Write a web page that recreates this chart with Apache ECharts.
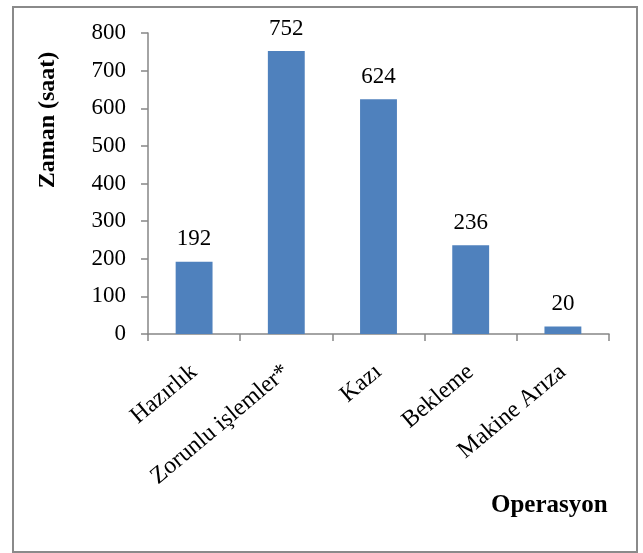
<!DOCTYPE html>
<html>
<head>
<meta charset="utf-8">
<script src="https://cdn.jsdelivr.net/npm/echarts@6/dist/echarts.min.js"></script>
<style>
  html, body { margin: 0; padding: 0; background: #fff; }
  #chart { width: 643px; height: 553px; }
</style>
</head>
<body>
<div id="chart"></div>
<script>
// operasyon süreleri (saat)
const categories = ['Hazırlık', 'Zorunlu işlemler*', 'Kazı', 'Bekleme', 'Makine Arıza']
const hours = [192, 752, 624, 236, 20]
const yTicks = { min: 0, max: 800, step: 100 }

const font = '"Liberation Serif", "Times New Roman", serif'
const axisGray = '#868686'

const chart = echarts.init(document.getElementById('chart'))
chart.setOption({
  animation: false,
  grid: { left: 148, right: 34, top: 33, bottom: 219 },
  graphic: [
    {
      type: 'rect',
      shape: { x: 13, y: 7, width: 624, height: 545 },
      style: { fill: 'none', stroke: '#8a8a8a', lineWidth: 2 }
    },
    {
      // eksen başlığı, eksenin ortasında değil biraz yukarıda
      type: 'text',
      x: 48, y: 120,
      rotation: Math.PI / 2,
      style: {
        text: 'Zaman (saat)', font: 'bold 24px ' + font, fill: '#000',
        align: 'center', verticalAlign: 'middle'
      }
    },
    {
      type: 'text',
      left: 491, top: 493,
      style: { text: 'Operasyon', font: 'bold 25px ' + font, fill: '#000' }
    }
  ],
  xAxis: {
    type: 'category',
    data: categories,
    axisLine: { lineStyle: { color: axisGray, width: 1.5 } },
    axisTick: { show: true, length: 7, lineStyle: { color: axisGray, width: 1.5 } },
    axisLabel: {
      rotate: 40, margin: 35, interval: 0,
      color: '#000', fontFamily: font, fontSize: 24
    }
  },
  yAxis: {
    type: 'value',
    min: yTicks.min, max: yTicks.max, interval: yTicks.step,
    splitLine: { show: false },
    axisLine: { show: true, lineStyle: { color: axisGray, width: 1.5 } },
    axisTick: { show: true, length: 7, lineStyle: { color: axisGray, width: 1.5 } },
    axisLabel: { margin: 22, color: '#000', fontFamily: font, fontSize: 23 }
  },
  series: [{
    type: 'bar',
    data: hours,
    barWidth: '40%',
    itemStyle: { color: '#4F81BD' },
    label: {
      show: true, position: 'top', distance: 11,
      color: '#000', fontFamily: font, fontSize: 23
    }
  }]
})
</script>
</body>
</html>
